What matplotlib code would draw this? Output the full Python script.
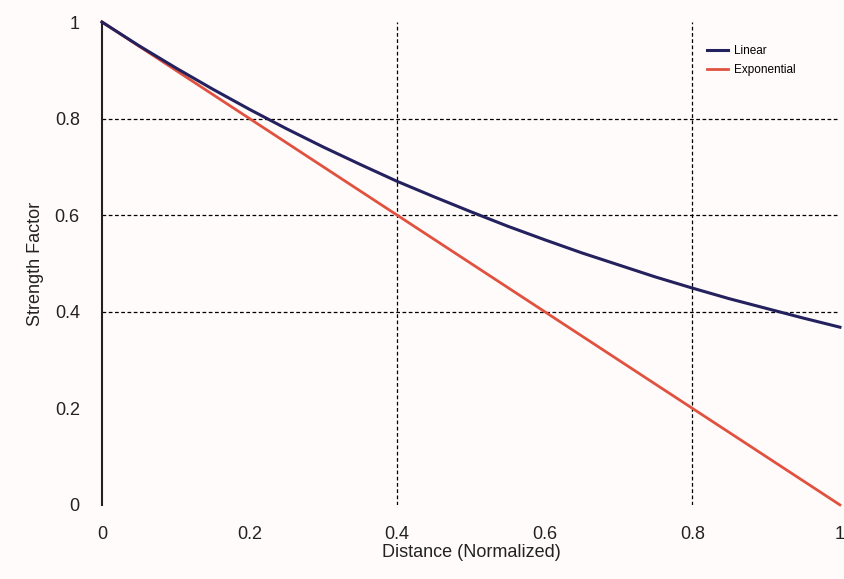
import matplotlib
matplotlib.use("Agg")
import matplotlib.pyplot as plt

plt.rcParams['font.family'] = ['Liberation Sans', 'DejaVu Sans']

# Distance samples and strength values for each falloff curve
distance = [0.0, 0.05, 0.1, 0.15, 0.2, 0.25, 0.3, 0.35, 0.4, 0.45, 0.5,
            0.55, 0.6, 0.65, 0.7, 0.75, 0.8, 0.85, 0.9, 0.95, 1.0]
linear_strength = [1.000, 0.951, 0.905, 0.861, 0.819, 0.779, 0.741, 0.705,
                   0.670, 0.638, 0.607, 0.577, 0.549, 0.522, 0.497, 0.472,
                   0.449, 0.427, 0.407, 0.387, 0.368]
exp_distance = [0.0, 0.2, 0.4, 0.6, 0.8, 1.0]
exponential_strength = [1.0, 0.8, 0.6, 0.4, 0.2, 0.0]

x_ticks = [0, 0.2, 0.4, 0.6, 0.8, 1]
x_tick_labels = ['0', '0.2', '0.4', '0.6', '0.8', '1']
y_ticks = [0, 0.2, 0.4, 0.6, 0.8, 1]
y_tick_labels = ['0', '0.2', '0.4', '0.6', '0.8', '1']
h_grid = [0.4, 0.6, 0.8]
v_grid = [0.4, 0.8]

bg = '#fffbfb'
fig = plt.figure(figsize=(8.45, 5.79), dpi=100, facecolor=bg)
ax = fig.add_axes([0.1207, 0.128, 0.8733, 0.834], facecolor=bg)

for y in h_grid:
    ax.axhline(y, color='black', linestyle=(0, (3, 2)), linewidth=0.9, zorder=1)
for x in v_grid:
    ax.axvline(x, color='black', linestyle=(0, (3, 2)), linewidth=0.9, zorder=1)

ax.plot(distance, linear_strength, color='#23215e', linewidth=2.2,
        label='Linear', clip_on=False, zorder=3)
ax.plot(exp_distance, exponential_strength, color='#e0523f', linewidth=2.0,
        label='Exponential', clip_on=False, zorder=2)

ax.set_xlim(0, 1)
ax.set_ylim(0, 1)
ax.set_xticks(x_ticks)
ax.set_xticklabels(x_tick_labels)
ax.set_yticks(y_ticks)
ax.set_yticklabels(y_tick_labels)
ax.tick_params(axis='both', length=0, labelsize=13, colors='#222222')
ax.tick_params(axis='x', pad=15)
ax.tick_params(axis='y', pad=16)

for side in ['top', 'right', 'bottom']:
    ax.spines[side].set_visible(False)
ax.spines['left'].set_color('#222222')
ax.spines['left'].set_linewidth(1.5)

ax.set_xlabel('Distance (Normalized)', fontsize=13, color='#222222', labelpad=1)
ax.set_ylabel('Strength Factor', fontsize=13, color='#222222', labelpad=8)

leg = ax.legend(loc='upper left', bbox_to_anchor=(0.805, 0.975), frameon=False,
                fontsize=8.5, handlelength=1.8, handletextpad=0.5, labelspacing=0.6)

fig.savefig('out.png', dpi=100, facecolor=bg)
